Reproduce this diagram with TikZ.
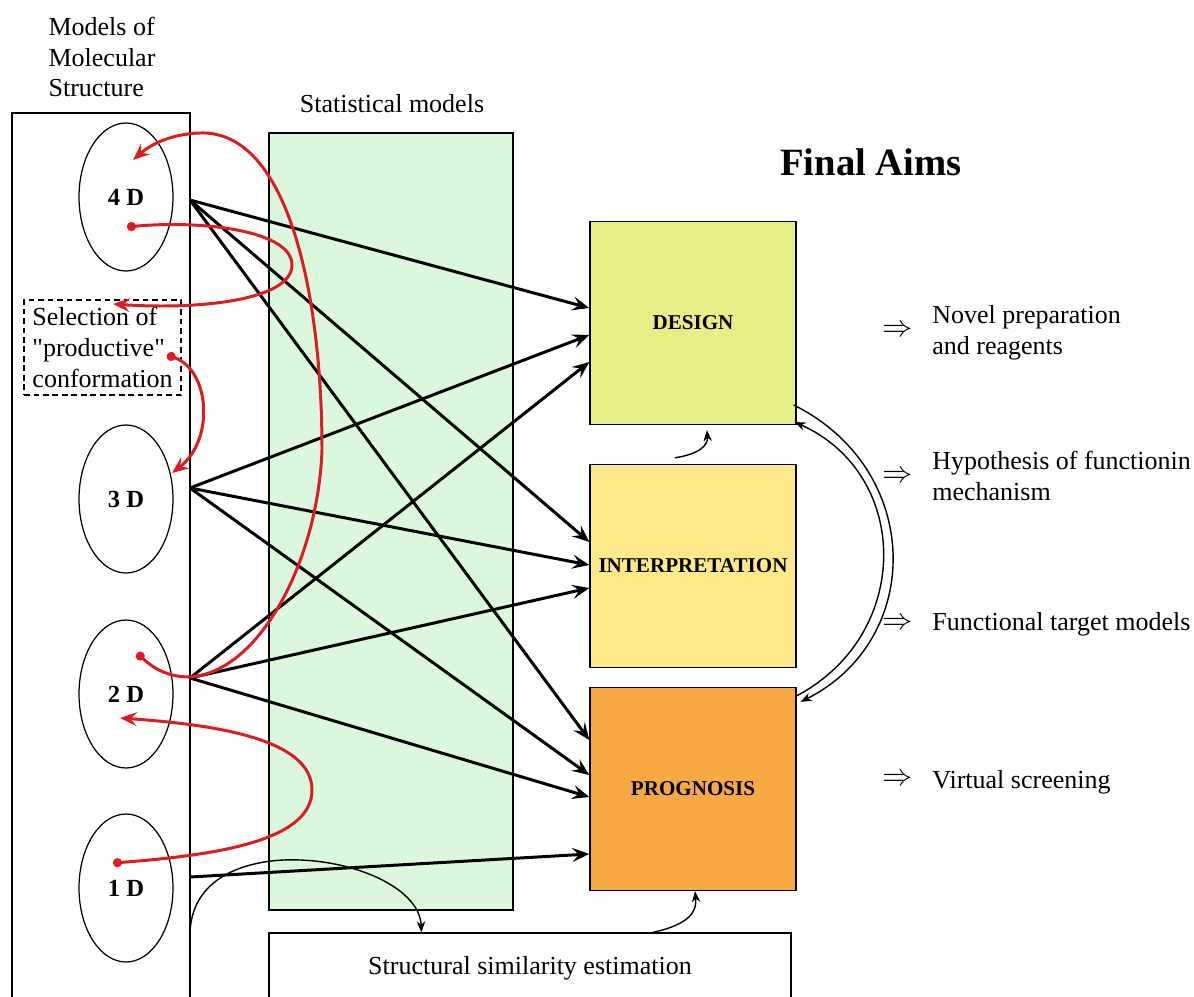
\documentclass[tikz,border=0pt]{standalone}
\usepackage{fontspec}
\setmainfont{Liberation Serif}[Ligatures=TeXOff]
\usetikzlibrary{arrows.meta, shapes.geometric, calc}
\definecolor{mygreen}{RGB}{220, 248, 220}
\definecolor{myyellow1}{RGB}{232, 238, 134}
\definecolor{myyellow2}{RGB}{253, 233, 138}
\definecolor{myorange}{RGB}{246, 169, 65}
\definecolor{myred}{RGB}{221, 28, 32}
\tikzset{>={Stealth[length=3.4mm, width=2.8mm, inset=1.3mm]}}

\begin{document}
\begin{tikzpicture}[
    x = 0.02cm, y = -0.02cm,
    txt/.style = {font = \fontsize{14.8}{17.6}\selectfont, inner sep = 0},
    dim/.style = {draw, ellipse, line width = 0.7, minimum width = 1.88cm, minimum height = 2.96cm, font = \fontsize{14}{16}\selectfont\bfseries},
    aim/.style = {draw, line width = 0.8, minimum width = 4.12cm, minimum height = 4.06cm, font = \fontsize{12}{14}\selectfont\bfseries},
    d0/.style = {line width = 1.7, ->},
    rd/.style = {line width = 1.7, myred, {Circle[length=1.8mm]}-{Stealth[length=3.4mm, width=2.8mm, inset=1.3mm]}},
    thn/.style = {line width = 0.8, -{Stealth[length=2.2mm, width=1.7mm]}}
]
\useasboundingbox (0,0) rectangle (1194,997);
\clip (0,0) rectangle (1194,997);

\node[draw, fill = mygreen, line width = 0.8, minimum width = 4.88cm, minimum height = 15.54cm] (stat) at (391,521.5) {};
\node[txt] (statlbl) at (392,104) {Statistical models};
\node[txt, align = left] (mtitle) at (102,57) {Models of\\Molecular\\Structure};

\draw[line width = 0.8] (12,113) rectangle (190,1010);
\node[dim] (d4) at (126,197) {4 D};
\node[dim] (d3) at (126,499) {3 D};
\node[dim] (d2) at (126,694) {2 D};
\node[dim] (d1) at (126,888) {1 D};
\node[draw, line width = 1.1, dash pattern = on 3.2pt off 2.2pt, txt, align = left, minimum width = 3.14cm, minimum height = 1.9cm] (sel) at (102.5,347.5) {Selection of\\"productive"\\conformation};

\node[aim, fill = myyellow1] (design) at (693,323) {DESIGN};
\node[aim, fill = myyellow2] (interp) at (693,566) {INTERPRETATION};
\node[aim, fill = myorange] (progn) at (693,789) {PROGNOSIS};
\node[draw, line width = 0.8, txt, minimum width = 10.44cm, minimum height = 1.4cm] (simil) at (530,968) {Structural similarity estimation};

\node[font = \fontsize{22}{26}\selectfont\bfseries] (final) at (871,162) {Final Aims};
\node[font = \fontsize{19}{20}\selectfont] (r1) at (898,331) {$\Rightarrow$};
\node[font = \fontsize{19}{20}\selectfont] (r2) at (898,477) {$\Rightarrow$};
\node[font = \fontsize{19}{20}\selectfont] (r3) at (898,624) {$\Rightarrow$};
\node[font = \fontsize{19}{20}\selectfont] (r4) at (898,780) {$\Rightarrow$};
\node[txt, align = left, anchor = west] (a1) at (932,333) {Novel preparation\\and reagents};
\node[txt, align = left, anchor = west] (a2) at (932,476) {Hypothesis of functionin\\mechanism};
\node[txt, anchor = west] (a3) at (932,624) {Functional target models};
\node[txt, anchor = west] (a4) at (932,782) {Virtual screening};

% model levels -> aims
\coordinate (s4) at (190,200);
\coordinate (s3) at (190,488);
\coordinate (s2) at (190,678);
\coordinate (s1) at (190,877);
\draw[d0] (s4) -- ($(design.west)+(0,-15)$);
\draw[d0] (s4) -- ($(interp.west)+(0,-24)$);
\draw[d0] (s4) -- ($(progn.west)+(0,-49)$);
\draw[d0] (s3) -- ($(design.west)+(0,12)$);
\draw[d0] (s3) -- ($(interp.west)+(0,-1)$);
\draw[d0] (s3) -- ($(progn.west)+(0,-14)$);
\draw[d0] (s2) -- ($(design.west)+(0,39)$);
\draw[d0] (s2) -- ($(interp.west)+(0,22)$);
\draw[d0] (s2) -- ($(progn.west)+(0,8)$);
\draw[d0] (s1) -- ($(progn.west)+(0,65)$);

% red transitions
\coordinate (p2) at (137,653);
\coordinate (p4) at (127,227);
\coordinate (ps) at (167,355);
\coordinate (p1) at (113,863);
\coordinate (q4) at (133,160);
\coordinate (qs) at (113,304);
\coordinate (q3) at (172,473);
\coordinate (q2) at (120,718);
\draw[rd] (p2) .. controls (155,670) and (170,677) .. (190,677) .. controls (260,672) and (318,560) .. (322,450) .. controls (322,300) and (290,130) .. (200,133) .. controls (170,134) and (150,145) .. (q4);
\draw[rd] (p4) .. controls (200,220) and (292,230) .. (292,265) .. controls (292,300) and (200,310) .. (qs);
\draw[rd] (ps) .. controls (210,370) and (215,440) .. (q3);
\draw[rd] (p1) .. controls (220,855) and (312,840) .. (312,790) .. controls (312,740) and (220,725) .. (q2);

% thin links
\coordinate (c1) at (190,933);
\draw[thn] (c1) .. controls (192,870) and (260,858) .. (300,860) .. controls (360,862) and (420,890) .. ($(simil.north west)+(153,0)$);
\draw[thn] ($(simil.north)+(123,0)$) .. controls +(37,-8) and +(2,20) .. ($(progn.south)+(2,0)$);
\draw[thn] ($(interp.north)+(-18,-6)$) .. controls +(25,-4) and +(1,15) .. ($(design.south)+(14,5)$);
\draw[thn] ($(design.east)+(-3,82)$) .. controls (924,470) and (924,640) .. ($(progn.north east)+(4,15)$);
\draw[thn] ($(progn.north east)+(0,9)$) .. controls (912,635) and (912,475) .. ($(design.east)+(-2,99)$);

\end{tikzpicture}
\end{document}
